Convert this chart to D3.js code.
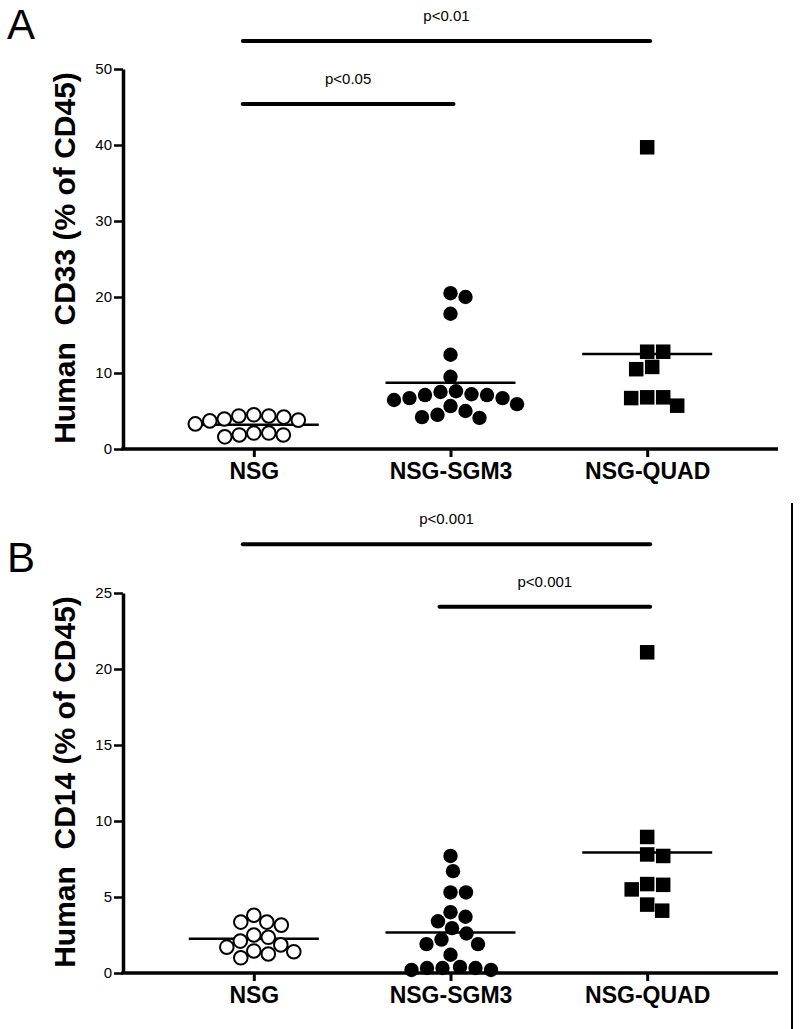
<!DOCTYPE html>
<html><head><meta charset="utf-8">
<script src="https://cdn.jsdelivr.net/npm/d3@7"></script>
<style>body{margin:0;background:#fff}svg{display:block}</style>
</head><body>
<svg id="chart" width="800" height="1029"></svg>
<script>
const categories = ["NSG", "NSG-SGM3", "NSG-QUAD"];

// Panel A: Human CD33 (% of CD45)
const cd33_NSG  = [3.95, 3.7, 2.1, 1.85, 1.6, 1.85, 2.1, 4.35, 4.35, 4.5, 3.3, 3.8, 4.2];
const cd33_SGM3 = [20.0, 20.5, 17.8, 12.4, 9.5, 6.7, 6.45, 7.5, 5.65, 7.1, 4.5, 4.1, 4.2, 7.1, 5.0, 7.2, 5.9, 7.6, 6.7];
const cd33_QUAD = [39.7, 12.8, 12.8, 10.8, 10.5, 6.8, 5.7, 6.7, 6.8];
const cd33Ticks = [0, 10, 20, 30, 40, 50];
const cd33Sig = [
  { from: "NSG", to: "NSG-QUAD", value: 53.7, label: "p<0.01" },
  { from: "NSG", to: "NSG-SGM3", value: 45.4, label: "p<0.05" }
];

// Panel B: Human CD14 (% of CD45)
const cd14_NSG  = [2.1, 3.35, 1.7, 2.5, 1.4, 3.8, 2.35, 1.0, 1.25, 3.15, 1.45, 3.35, 1.85];
const cd14_SGM3 = [7.7, 6.7, 5.3, 5.3, 4.0, 3.4, 3.7, 2.6, 2.95, 1.9, 1.9, 2.2, 1.2, 0.33, 0.33, 0.2, 0.2, 0.33, 0.4];
const cd14_QUAD = [21.1, 8.95, 7.7, 7.8, 5.8, 5.5, 5.85, 4.1, 4.5];
const cd14Ticks = [0, 5, 10, 15, 20, 25];
const cd14Sig = [
  { from: "NSG", to: "NSG-QUAD", value: 28.2, label: "p<0.001" },
  { from: "NSG-SGM3", to: "NSG-QUAD", value: 24.1, label: "p<0.001" }
];

const markerTypes = ["open", "filled", "square"];

const svg = d3.select("#chart");

function swarm(values, y, r) {
  const pts = values.map(v => ({ v, y: y(v), x: 0 }));
  const order = pts.slice().sort((a, b) => a.y - b.y);
  const placed = [];
  const minD = 2 * r + 1;
  for (const p of order) {
    for (let k = 0; k < 1000; k++) {
      const dx = (k % 2 ? 1 : -1) * Math.ceil(k / 2) * 0.5;
      if (placed.every(q => (q.x - dx) ** 2 + (q.y - p.y) ** 2 >= minD * minD)) { p.x = dx; break; }
    }
    placed.push(p);
  }
  return pts;
}

function panel(opts) {
  const g = svg.append("g");
  const x = d3.scalePoint().domain(categories).range([123, 778]).padding(0.665);
  const y = d3.scaleLinear().domain([0, opts.max]).range([opts.y0, opts.y0 - 380]);

  // panel letter
  g.append("text").attr("x", 7).attr("y", opts.letterY)
    .attr("font-family", "'Liberation Sans', Arial, sans-serif").attr("font-size", 42)
    .text(opts.letter);

  // y axis
  const ya = g.append("g").attr("transform", "translate(123,0)")
    .call(d3.axisLeft(y).tickValues(opts.ticks).tickSize(9).tickPadding(2).tickSizeOuter(0));
  ya.select(".domain").attr("stroke-width", 3.5).attr("stroke", "#000");
  ya.selectAll(".tick line").attr("stroke-width", 2.5);
  ya.selectAll(".tick text").attr("font-family", "'Liberation Sans', Arial, sans-serif")
    .attr("font-size", 15).attr("fill", "#000");

  // x axis
  const xa = g.append("g").attr("transform", `translate(0,${opts.y0})`)
    .call(d3.axisBottom(x).tickSize(8).tickPadding(6).tickSizeOuter(0));
  xa.select(".domain").attr("stroke-width", 3.5).attr("stroke", "#000")
    .attr("d", `M121.25,0H778`);
  xa.selectAll(".tick line").attr("stroke-width", 3);
  xa.selectAll(".tick text").attr("font-family", "'Liberation Sans', Arial, sans-serif")
    .attr("font-size", 23).attr("font-weight", "bold").attr("fill", "#000");

  // y title
  g.append("text")
    .attr("transform", `translate(${75},${opts.y0 - 191}) rotate(-90)`)
    .attr("text-anchor", "middle")
    .style("white-space", "pre")
    .attr("font-family", "'Liberation Sans', Arial, sans-serif")
    .attr("font-size", 30).attr("font-weight", "bold")
    .text(opts.title);

  // data
  opts.groups.forEach((vals, i) => {
    const cx = x(categories[i]);
    const type = markerTypes[i];
    const r = type === "open" ? 6.8 : 7.2;
    const pts = swarm(vals, y, type === "square" ? 7.5 : r);
    const m = d3.mean(vals);
    g.append("line").attr("x1", cx - 65).attr("x2", cx + 65)
      .attr("y1", y(m)).attr("y2", y(m)).attr("stroke", "#000").attr("stroke-width", 2.5);
    if (type === "square") {
      g.selectAll(null).data(pts).enter().append("rect")
        .attr("x", d => cx + d.x - 7.25).attr("y", d => d.y - 7.25)
        .attr("width", 14.5).attr("height", 14.5).attr("fill", "#000");
    } else {
      g.selectAll(null).data(pts).enter().append("circle")
        .attr("cx", d => cx + d.x).attr("cy", d => d.y).attr("r", r)
        .attr("fill", type === "open" ? "#fff" : "#000")
        .attr("stroke", "#000").attr("stroke-width", type === "open" ? 2 : 0);
    }
  });

  // significance bars
  opts.sig.forEach(s => {
    const x1 = x(s.from) - 11, x2 = x(s.to) + 3;
    g.append("line").attr("x1", x1).attr("x2", x2)
      .attr("y1", y(s.value)).attr("y2", y(s.value))
      .attr("stroke", "#000").attr("stroke-width", 4).attr("stroke-linecap", "round");
    g.append("text").attr("x", (x1 + x2) / 2).attr("y", y(s.value) - 20)
      .attr("text-anchor", "middle")
      .attr("font-family", "'Liberation Sans', Arial, sans-serif").attr("font-size", 15)
      .text(s.label);
  });
}

panel({ letter: "A", letterY: 39, y0: 449, max: 50, ticks: cd33Ticks,
  title: "Human  CD33 (% of CD45)", groups: [cd33_NSG, cd33_SGM3, cd33_QUAD], sig: cd33Sig });
panel({ letter: "B", letterY: 572, y0: 973, max: 25, ticks: cd14Ticks,
  title: "Human  CD14 (% of CD45)", groups: [cd14_NSG, cd14_SGM3, cd14_QUAD], sig: cd14Sig });

// right border line
svg.append("line").attr("x1", 792).attr("x2", 792).attr("y1", 503).attr("y2", 1029)
  .attr("stroke", "#000").attr("stroke-width", 2);
</script>
</body></html>
